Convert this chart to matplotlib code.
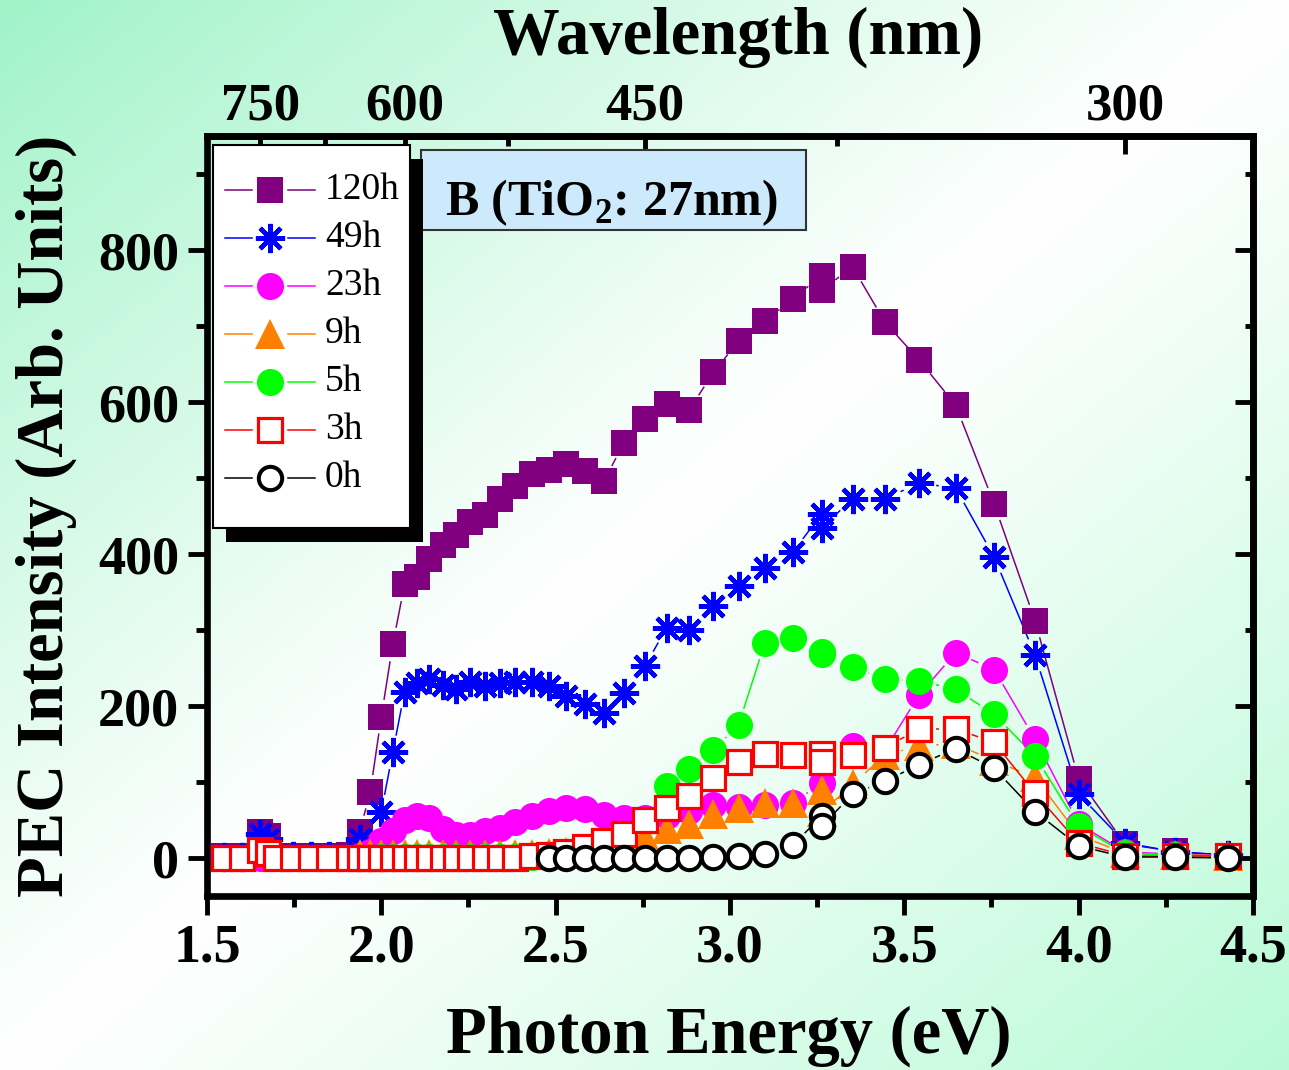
import numpy as np
import matplotlib
matplotlib.use('Agg')
import matplotlib.pyplot as plt
from matplotlib.patches import Rectangle
from matplotlib.collections import LineCollection
from matplotlib.ticker import MultipleLocator, FixedLocator, FormatStrFormatter

plt.rcParams['font.family'] = ['Liberation Serif', 'DejaVu Serif']
plt.rcParams['font.weight'] = 'bold'
plt.rcParams['mathtext.fontset'] = 'custom'
plt.rcParams['mathtext.rm'] = 'Liberation Serif:bold'
plt.rcParams['mathtext.bf'] = 'Liberation Serif:bold'

nan = np.nan

# measurement wavelengths (nm); 380 nm was recorded twice
wavelength = [800, 775, 750, 740, 730, 710, 690, 670, 650,
              640, 630, 620, 610, 600, 590, 580, 570, 560, 550, 540, 530, 520, 510, 500,
              490, 480, 470, 460, 450, 440, 430, 420, 410, 400, 390,
              380, 380,
              370, 360, 350, 340, 330, 320, 310, 300, 290, 280]

pec_120h = [2, 2, 34, 29, 3, 2, 3, 3, 4,
            34, 87, 186, 281, 360, 370, 394, 412, 425, 442, 451, 473, 490, 505, 511,
            518, 509, 496, 546, 577, 597, 590, 639, 680, 706, 736,
            766, 747,
            778, 705, 655, 596, 466, 312, 104, 18, 9, 3]
pec_49h = [1, 1, 31, 25, 2, 2, 2, 2, 3,
           25, nan, 61, 139, 219, 230, 235, 228, 222, 232, 226, 230, 232, 232, 226,
           213, 202, 191, 217, 252, 303, 300, 331, 358, 382, 402,
           453, 434,
           473, 473, 493, 487, 396, 267, 84, 20, 8, 4]
pec_23h = [0, 0, 0, 0, 0, 0, 0, 0, 0,
           3, 8, 22, 35, 50, 55, 52, 38, 30, 30, 35, 40, 47, 55, 62,
           66, 64, 56, 53, 52, 55, 62, 70, 67, 70, 72,
           99, 135,
           147, 142, 215, 270, 248, 156, 45, 8, 5, 3]
pec_9h = [nan, nan, nan, nan, nan, nan, nan, nan, nan,
          5, 5, 5, 5, 5, 5, 5, 5, 5, 5, 5, 5, 5, 5, 6,
          8, 12, 16, 22, 27, 38, 45, 58, 66, 72, 73,
          90, 60,
          97, 135, 148, 150, 128, 106, 30, 6, 4, 3]
pec_5h = [nan, nan, nan, nan, nan, nan, nan, nan, nan,
          nan, nan, 1, 1, 1, 1, 1, 1, 1, 1, 1, 1, 1, 1, 2,
          4, 8, 12, 28, 50, 95, 117, 142, 175, 283, 289,
          271, 268,
          251, 235, 233, 222, 189, 134, 42, 6, 4, 2]
pec_3h = [0, 0, 10, 6, 0, 0, 0, 0, 0,
          0, 0, 0, 0, 0, 0, 0, 0, 0, 0, 0, 0, 0, 2, 4,
          8, 14, 22, 32, 50, 66, 81, 105, 126, 137, 135,
          137, 126,
          135, 145, 170, 170, 152, 85, 20, 3, 2, 2]
pec_0h = [nan, nan, nan, nan, nan, nan, nan, nan, nan,
          nan, nan, nan, nan, nan, nan, nan, nan, nan, nan, nan, nan, nan, nan, 0,
          0, 0, 0, 0, 0, 0, 0, 1, 2, 5, 17,
          55, 42,
          84, 101, 123, 144, 118, 61, 16, 1, 1, 0]

labels = ['120h', '49h', '23h', '9h', '5h', '3h', '0h']
curves = [pec_120h, pec_49h, pec_23h, pec_9h, pec_5h, pec_3h, pec_0h]
styles = [
    dict(color='#800080', marker='s', ms=18.5, mfc='#800080', mec='#800080', mew=0),
    dict(color='#0000ff', marker=(8, 2, 0), ms=21, mfc='#0000ff', mec='#0000ff', mew=3.2),
    dict(color='#ff00ff', marker='o', ms=19.5, mfc='#ff00ff', mec='#ff00ff', mew=0),
    dict(color='#ff8000', marker='^', ms=21, mfc='#ff8000', mec='#ff8000', mew=0),
    dict(color='#00ff00', marker='o', ms=19.5, mfc='#00ff00', mec='#00ff00', mew=0),
    dict(color='#ff0000', marker='s', ms=16.8, mfc='white', mec='#ff0000', mew=2.3),
    dict(color='#000000', marker='o', ms=16.8, mfc='white', mec='#000000', mew=2.9),
]

energy = 1240.0 / np.array(wavelength, dtype=float)


def ev_nm(v):
    v = np.asarray(v, dtype=float)
    with np.errstate(divide='ignore', invalid='ignore'):
        return 1240.0 / v


def gapped(ax, x, y, gap):
    """Connecting segments that stop short of the symbols (in pixels)."""
    pts = ax.transData.transform(np.column_stack([x, y]))
    inv = ax.transData.inverted()
    segs = []
    for p0, p1 in zip(pts[:-1], pts[1:]):
        if np.isnan(p0).any() or np.isnan(p1).any():
            continue
        d = np.hypot(*(p1 - p0))
        if d <= 2 * gap:
            continue
        u = (p1 - p0) / d
        segs.append(inv.transform(np.array([p0 + u * gap, p1 - u * gap])))
    return segs


W, H = 1289, 1070
fig = plt.figure(figsize=(W / 100, H / 100), dpi=100)

# mint-to-white diagonal background
bg = fig.add_axes([0, 0, 1, 1], zorder=-10)
gy, gx = np.mgrid[0:H, 0:W]
s = gx / W + gy / H - 1.0
tl = np.array([160, 243, 200]) / 255.0
br = np.array([184, 250, 214]) / 255.0
amt = np.abs(s)[..., None] ** 1.1
corner = np.where(s[..., None] < 0, tl, br)
bg.imshow(1 - (1 - corner) * amt, extent=[0, 1, 0, 1], aspect='auto')
bg.set_axis_off()

x0, x1, y0, y1 = 207, 1253, 136, 896
ax = fig.add_axes([x0 / W, (H - y1) / H, (x1 - x0) / W, (y1 - y0) / H])
ax.patch.set_visible(False)
ax.set_xlim(1.5, 4.5)
ax.set_ylim(-50, 950)

for i, (lab, vals, st) in enumerate(zip(labels, curves, styles)):
    segs = gapped(ax, energy, np.array(vals, dtype=float), 17)
    ax.add_collection(LineCollection(segs, colors=st['color'], linewidths=1.1, zorder=2))
for i, (lab, vals, st) in enumerate(zip(labels, curves, styles)):
    ax.plot(energy, vals, linestyle='none', marker=st['marker'], ms=st['ms'],
            mfc=st['mfc'], mec=st['mec'], mew=st['mew'], zorder=3 + i, clip_on=False)

# axes frame and ticks
for sp in ax.spines.values():
    sp.set_linewidth(4.8)
ax.xaxis.set_major_locator(MultipleLocator(0.5))
ax.xaxis.set_minor_locator(MultipleLocator(0.25))
ax.xaxis.set_major_formatter(FormatStrFormatter('%.1f'))
ax.yaxis.set_major_locator(MultipleLocator(200))
ax.yaxis.set_minor_locator(MultipleLocator(100))
ax.tick_params(which='major', direction='out', length=14, width=3.5, labelsize=39, pad=6)
ax.tick_params(which='minor', direction='out', length=8, width=3.5)

top = ax.secondary_xaxis('top', functions=(ev_nm, ev_nm))
top.set_xticks([750, 600, 450, 300])
top.xaxis.set_minor_locator(FixedLocator([675, 525, 375]))
top.tick_params(which='major', direction='in', length=13, width=3.5, labelsize=38, pad=4)
top.tick_params(which='minor', direction='in', length=7, width=3.5)
top.spines['top'].set_linewidth(4.8)

right = ax.secondary_yaxis('right')
right.yaxis.set_major_locator(MultipleLocator(200))
right.yaxis.set_minor_locator(MultipleLocator(100))
right.tick_params(which='major', direction='in', length=13, width=3.5, labelright=False)
right.tick_params(which='minor', direction='in', length=6, width=3.5)
right.spines['right'].set_linewidth(4.8)

fig.text(729 / W, 1 - 1036 / H, 'Photon Energy (eV)', ha='center', va='center', fontsize=48)
fig.text(738 / W, 1 - 37 / H, 'Wavelength (nm)', ha='center', va='center', fontsize=48)
fig.text(46 / W, 1 - 516 / H, 'PEC Intensity (Arb. Units)', ha='center', va='center',
         rotation=90, fontsize=48)


def fx(px):
    return (px - x0) / (x1 - x0)


def fy(py):
    return (y1 - py) / (y1 - y0)


# sample label box
ax.add_patch(Rectangle((fx(421), fy(230)), fx(806) - fx(421), fy(150) - fy(230),
                       transform=ax.transAxes, facecolor='#cdeafc', edgecolor='#333333',
                       lw=1.5, zorder=8, clip_on=False))
ax.text(fx(611), fy(215), r'B (TiO$_\mathbf{2}$: 27nm)', transform=ax.transAxes,
        ha='center', va='baseline', fontsize=36, fontweight='bold', zorder=9)

# legend with drop shadow
lx0, lx1, ly0, ly1 = 213, 410, 145, 528
ax.add_patch(Rectangle((fx(lx0 + 13), fy(ly1 + 14)), fx(lx1) - fx(lx0), fy(ly0) - fy(ly1),
                       transform=ax.transAxes, facecolor='black', edgecolor='none',
                       zorder=10, clip_on=False))
ax.add_patch(Rectangle((fx(lx0), fy(ly1)), fx(lx1) - fx(lx0), fy(ly0) - fy(ly1),
                       transform=ax.transAxes, facecolor='white', edgecolor='black',
                       lw=1.5, zorder=11, clip_on=False))
for i, (lab, st) in enumerate(zip(labels, styles)):
    ry = fy(190 + i * 48)
    for a, b in ((225, 252), (288, 315)):
        ax.plot([fx(a), fx(b)], [ry, ry], color=st['color'], lw=1.1,
                transform=ax.transAxes, zorder=12, clip_on=False)
    ax.plot([fx(270)], [ry], linestyle='none', marker=st['marker'], ms=st['ms'],
            mfc=st['mfc'], mec=st['mec'], mew=st['mew'], transform=ax.transAxes,
            zorder=13, clip_on=False)
    ax.text(fx(325), ry, lab, transform=ax.transAxes, ha='left', va='center',
            fontsize=27, fontweight='normal', zorder=13)

fig.savefig('out.png', dpi=100)
